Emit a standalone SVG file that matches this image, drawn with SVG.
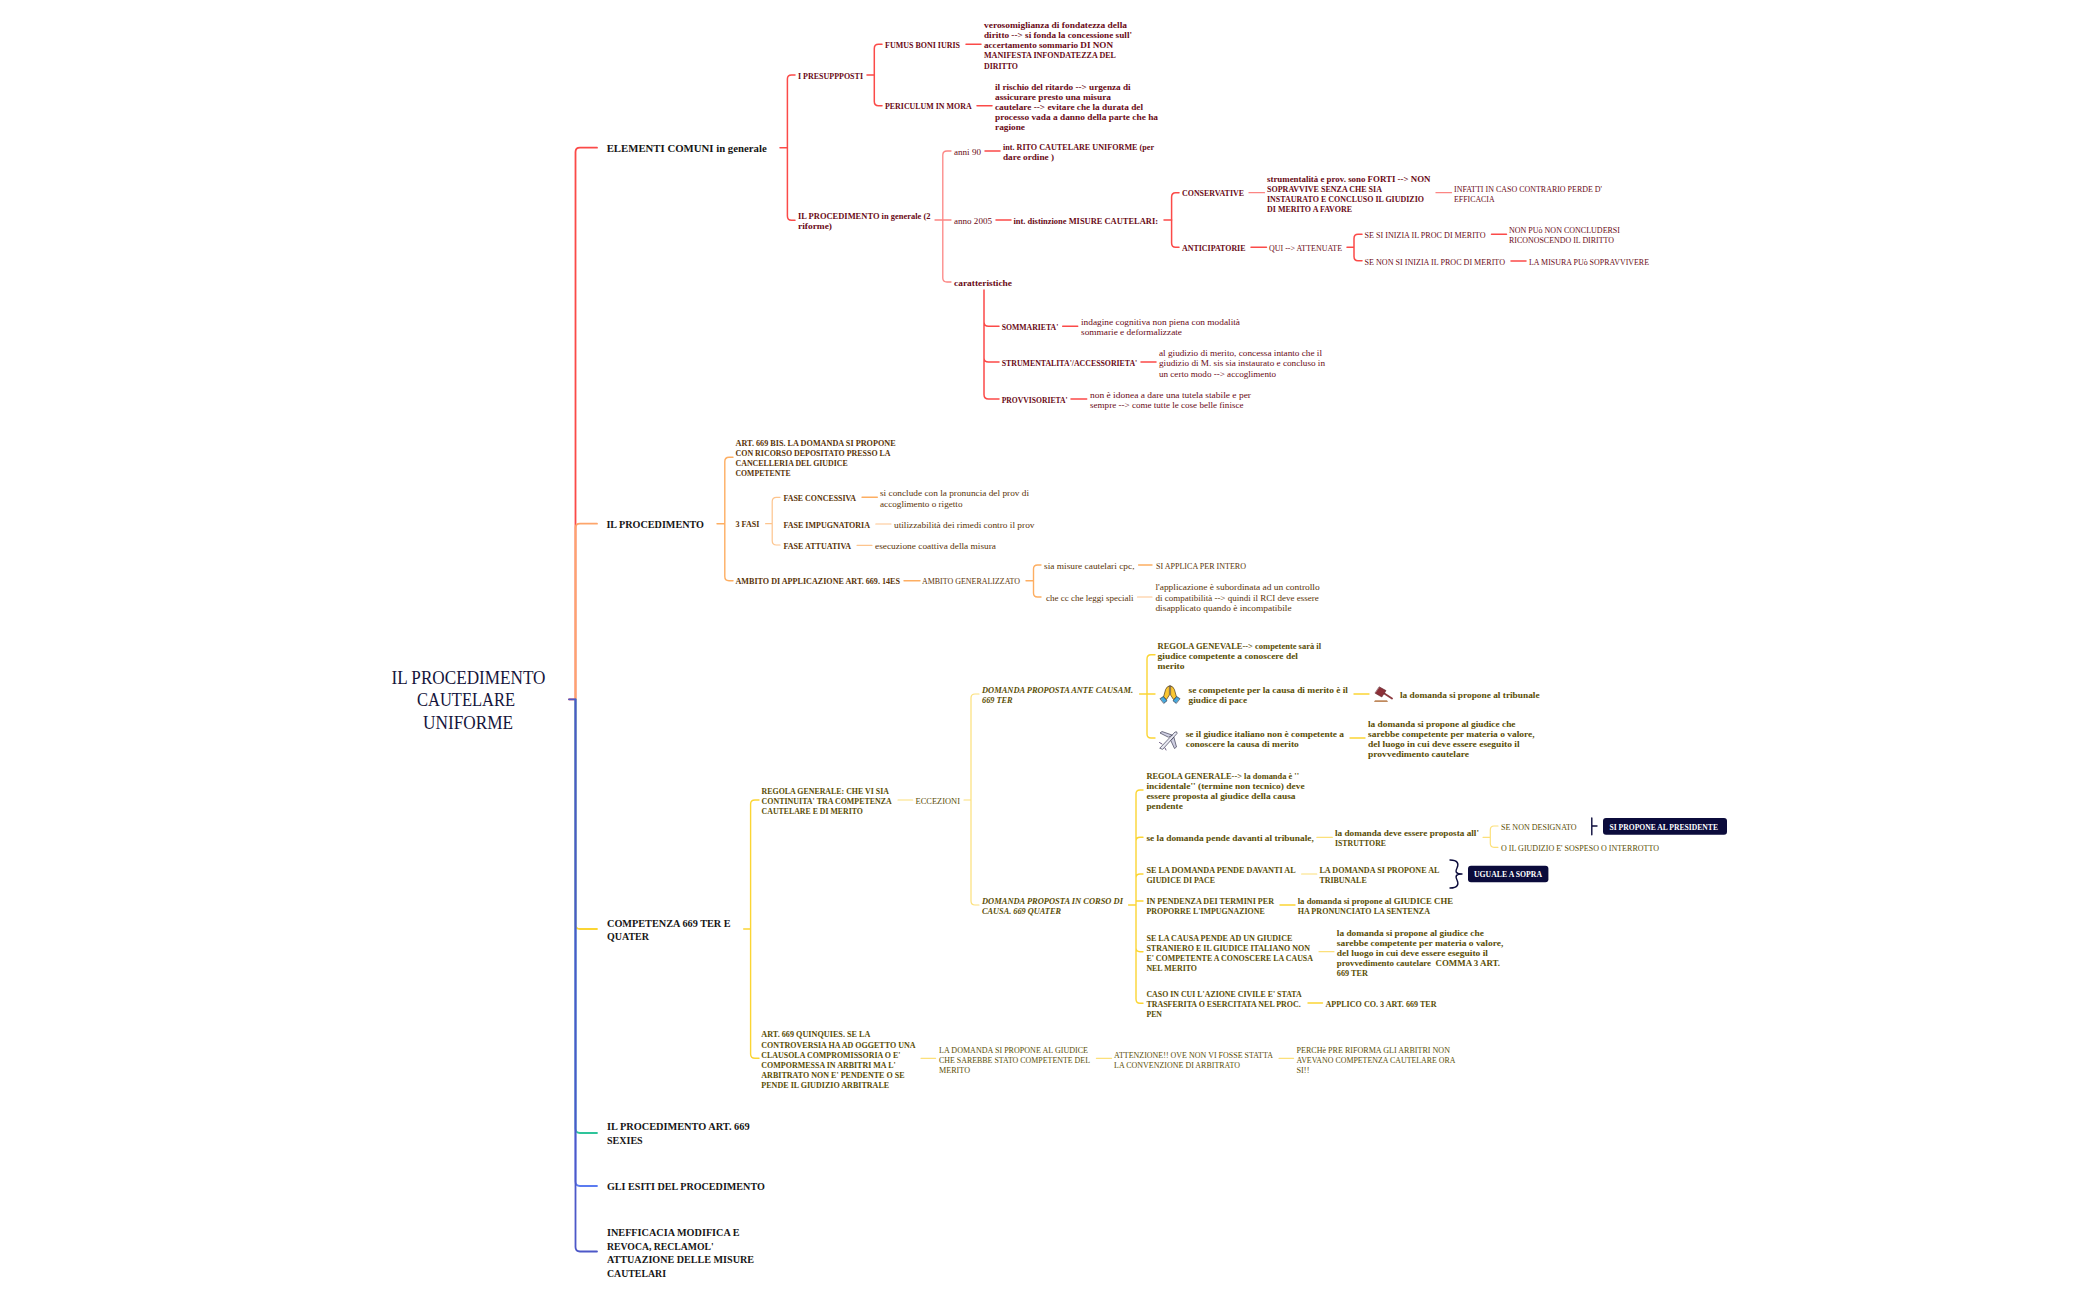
<svg xmlns="http://www.w3.org/2000/svg" width="2100" height="1300" viewBox="0 0 2100 1300">
<style>
text{font-family:"Liberation Serif","Times New Roman",serif;font-size:8.8px;dominant-baseline:central;transform:translateY(.6px)}
.b{font-weight:700}
.i{font-style:italic;font-weight:700}
.h{font-size:11px;font-weight:700;fill:#161616}
.root{font-size:18px;fill:#15153c;text-anchor:middle}
.r{fill:#6a0a16}
.o{fill:#5a3408}
.y{fill:#5a4e05}
.w{fill:#fff;font-weight:700;font-size:8.8px}
path{fill:none;stroke-linecap:round;stroke-linejoin:round}
.cr{stroke:#fb4a48;stroke-width:1.5}
.cr2{stroke:#fc8583;stroke-width:1.3}
.co{stroke:#fdae62;stroke-width:1.4}
.co2{stroke:#fdc48d;stroke-width:1.2}
.cy{stroke:#fbd534;stroke-width:1.4}
.cy2{stroke:#fce07a;stroke-width:1.2}
.dk{stroke:#0b0b3b;stroke-width:1.4}
.box{fill:#0b0b3b}
</style>
<g id="connectors">
<path d="M569,699.3H575.5V152Q575.5,147.7 580,147.7H597" stroke="#fb4a48" stroke-width="1.8"/>
<path d="M575.5,699.3V528Q575.5,523.7 580,523.7H597" stroke="#fda56b" stroke-width="1.8"/>
<path d="M575.5,699.3V925Q575.5,929 580,929H597" stroke="#fbd534" stroke-width="1.8"/>
<path d="M575.5,699.3V1128.6Q575.5,1133 580,1133H597" stroke="#2ec49a" stroke-width="1.8"/>
<path d="M575.5,699.3V1181.6Q575.5,1186 580,1186H597" stroke="#5b7bf0" stroke-width="1.8"/>
<path d="M569,699.3H575.5V1247Q575.5,1251.5 580,1251.5H597" stroke="#4d58c8" stroke-width="1.8"/>
<path class="cr" d="M780,147.7H787.4M795,75H791.5Q787.4,75 787.4,79V216Q787.4,220.3 791.5,220.3H795"/>
<path class="cr" d="M867,75H874.3M882,44.3H878.5Q874.3,44.3 874.3,48.5V101.5Q874.3,105.7 878.5,105.7H882"/>
<path class="cr" d="M966,44.3H981M977,105.7H992"/>
<path class="cr2" d="M935,220H951M951,151H947Q942.8,151 942.8,155V278Q942.8,282 947,282H951"/>
<path class="cr" d="M985,151H1000M996,220H1011M1164,220H1171.6"/>
<path class="cr" d="M984,290V394.5Q984,399 988.5,399H999M984,322Q984,326.3 988.5,326.3H999M984,358Q984,362 988.5,362H999"/>
<path class="cr" d="M1062.7,326.3H1077.7M1141,362H1156M1071,399H1086.7"/>
<path class="cr" d="M1179,192.7H1175.6Q1171.6,192.7 1171.6,197V243Q1171.6,247.3 1175.6,247.3H1179"/>
<path class="cr2" d="M1249,192.7H1264.5M1436,192.7H1451.5"/>
<path class="cr" d="M1251,247.3H1266.5M1347,247.3H1354M1362,234.3H1358Q1354,234.3 1354,238.5V256.5Q1354,260.7 1358,260.7H1362M1491.5,234.3H1506.5M1511,261H1526"/>
<path class="co" d="M717,523.7H724.8M733,457.3H729Q724.8,457.3 724.8,461.5V576.5Q724.8,580.7 729,580.7H733"/>
<path class="co2" d="M765.6,523.7H772.2M780,497.3H776.4Q772.2,497.3 772.2,501.5V540.8Q772.2,545 776.4,545H780"/>
<path class="co" d="M862,497.3H877.3"/>
<path class="co2" d="M875.8,524H891M857,545.3H872"/>
<path class="co" d="M904,580.7H920M1026,580.7H1033.5M1041,565H1037.5Q1033.5,565 1033.5,569V593Q1033.5,597 1037.5,597H1041M1138.6,565H1152"/>
<path class="co2" d="M1137.5,597H1152"/>
<path class="cy" d="M743.7,929H750.6M759,800H755Q750.6,800 750.6,804V1054Q750.6,1058.3 755,1058.3H759"/>
<path class="cy2" d="M898,800H912.7"/>
<path class="cy2" d="M964,800H971M979,694H975Q971,694 971,698V901Q971,905 975,905H979"/>
<path class="cy" d="M1139.6,694H1155M1155,654.7H1151Q1147,654.7 1147,659V734Q1147,738 1151,738H1155"/>
<path class="cy" d="M1354,694H1369M1350,738H1365"/>
<path class="cy" d="M1128.6,905H1136M1143,790H1140Q1136,790 1136,794V999Q1136,1003.3 1140,1003.3H1143M1136,841Q1136,837.3 1140,837.3H1143M1136,878Q1136,874 1140,874H1143M1136,901H1143M1136,948Q1136,951.7 1140,951.7H1143"/>
<path class="cy2" d="M1316.8,837.3H1332.4M1483,837.3H1490.3M1498,826H1494Q1490.3,826 1490.3,830V843.3Q1490.3,847.3 1494,847.3H1498"/>
<path class="cy2" d="M1301.6,874H1316.8M1319,951.7H1334"/>
<path class="cy" d="M1280,905H1295M1308,1003H1322.5"/>
<path class="cy2" d="M921,1058.3H935.6M1096.4,1058.3H1111.6M1279,1058.3H1293.6"/>
<path class="dk" d="M1591.8,818V834.7M1591.8,826H1597"/>
<path class="dk" d="M1450,860C1458,860 1459,864 1457,868C1455,872 1456,874 1462,874C1456,874 1455,876 1457,880C1459,884 1458,888 1450,888"/>
</g>
<g id="root"><text class="root" x="468.5" y="677.4" textLength="154" lengthAdjust="spacingAndGlyphs">IL PROCEDIMENTO</text><text class="root" x="466" y="699.4" textLength="98" lengthAdjust="spacingAndGlyphs">CAUTELARE</text><text class="root" x="468" y="722" textLength="90" lengthAdjust="spacingAndGlyphs">UNIFORME</text></g>
<g id="n1"><text class="h" x="606.7" y="147.7" textLength="160" lengthAdjust="spacingAndGlyphs">ELEMENTI COMUNI in generale</text></g>
<g id="n2"><text class="b r" x="798" y="75" textLength="65" lengthAdjust="spacingAndGlyphs">I PRESUPPPOSTI</text></g>
<g id="n3"><text class="b r" x="885" y="44.3" textLength="75" lengthAdjust="spacingAndGlyphs">FUMUS BONI IURIS</text></g>
<g id="n4"><text class="b r" x="984" y="24" textLength="143" lengthAdjust="spacingAndGlyphs">verosomiglianza di fondatezza della</text><text class="b r" x="984" y="34" textLength="148" lengthAdjust="spacingAndGlyphs">diritto --&gt; si fonda la concessione sull'</text><text class="b r" x="984" y="44" textLength="129" lengthAdjust="spacingAndGlyphs">accertamento sommario DI NON</text><text class="b r" x="984" y="54" textLength="132" lengthAdjust="spacingAndGlyphs">MANIFESTA INFONDATEZZA DEL</text><text class="b r" x="984" y="65" textLength="34" lengthAdjust="spacingAndGlyphs">DIRITTO</text></g>
<g id="n5"><text class="b r" x="885" y="105.7" textLength="86.6" lengthAdjust="spacingAndGlyphs">PERICULUM IN MORA</text></g>
<g id="n6"><text class="b r" x="995" y="86" textLength="135.6" lengthAdjust="spacingAndGlyphs">il rischio del ritardo --&gt; urgenza di</text><text class="b r" x="995" y="96.3" textLength="116" lengthAdjust="spacingAndGlyphs">assicurare presto una misura</text><text class="b r" x="995" y="106" textLength="148" lengthAdjust="spacingAndGlyphs">cautelare --&gt; evitare che la durata del</text><text class="b r" x="995" y="116.3" textLength="163" lengthAdjust="spacingAndGlyphs">processo vada a danno della parte che ha</text><text class="b r" x="995" y="126.3" textLength="30" lengthAdjust="spacingAndGlyphs">ragione</text></g>
<g id="n7"><text class="b r" x="798" y="215" textLength="132.5" lengthAdjust="spacingAndGlyphs">IL PROCEDIMENTO in generale (2</text><text class="b r" x="798" y="225" textLength="34" lengthAdjust="spacingAndGlyphs">riforme)</text></g>
<g id="n8"><text class="r" x="954" y="151" textLength="27" lengthAdjust="spacingAndGlyphs">anni 90</text></g>
<g id="n9"><text class="b r" x="1003" y="146" textLength="151" lengthAdjust="spacingAndGlyphs">int. RITO CAUTELARE UNIFORME (per</text><text class="b r" x="1003" y="156" textLength="51" lengthAdjust="spacingAndGlyphs">dare ordine )</text></g>
<g id="n10"><text class="r" x="954" y="220" textLength="38" lengthAdjust="spacingAndGlyphs">anno 2005</text></g>
<g id="n11"><text class="b r" x="1013.5" y="220" textLength="144.5" lengthAdjust="spacingAndGlyphs">int. distinzione MISURE CAUTELARI:</text></g>
<g id="n12"><text class="b r" x="1182" y="192.7" textLength="62" lengthAdjust="spacingAndGlyphs">CONSERVATIVE</text></g>
<g id="n13"><text class="b r" x="1267" y="178" textLength="163.5" lengthAdjust="spacingAndGlyphs">strumentalità e prov. sono FORTI --&gt; NON</text><text class="b r" x="1267" y="188" textLength="115" lengthAdjust="spacingAndGlyphs">SOPRAVVIVE SENZA CHE SIA</text><text class="b r" x="1267" y="198" textLength="157" lengthAdjust="spacingAndGlyphs">INSTAURATO E CONCLUSO IL GIUDIZIO</text><text class="b r" x="1267" y="208" textLength="85" lengthAdjust="spacingAndGlyphs">DI MERITO A FAVORE</text></g>
<g id="n14"><text class="r" x="1454" y="188" textLength="148" lengthAdjust="spacingAndGlyphs">INFATTI IN CASO CONTRARIO PERDE D'</text><text class="r" x="1454" y="198" textLength="40.6" lengthAdjust="spacingAndGlyphs">EFFICACIA</text></g>
<g id="n15"><text class="b r" x="1182" y="247.3" textLength="63.5" lengthAdjust="spacingAndGlyphs">ANTICIPATORIE</text></g>
<g id="n16"><text class="r" x="1269" y="247.3" textLength="73" lengthAdjust="spacingAndGlyphs">QUI --&gt; ATTENUATE</text></g>
<g id="n17"><text class="r" x="1364.5" y="234.3" textLength="121" lengthAdjust="spacingAndGlyphs">SE SI INIZIA IL PROC DI MERITO</text></g>
<g id="n18"><text class="r" x="1509" y="229" textLength="111" lengthAdjust="spacingAndGlyphs">NON PUò NON CONCLUDERSI</text><text class="r" x="1509" y="239" textLength="105" lengthAdjust="spacingAndGlyphs">RICONOSCENDO IL DIRITTO</text></g>
<g id="n19"><text class="r" x="1364.5" y="261" textLength="140.5" lengthAdjust="spacingAndGlyphs">SE NON SI INIZIA IL PROC DI MERITO</text></g>
<g id="n20"><text class="r" x="1529" y="261" textLength="120" lengthAdjust="spacingAndGlyphs">LA MISURA PUò SOPRAVVIVERE</text></g>
<g id="n21"><text class="b r" x="954" y="282" textLength="58" lengthAdjust="spacingAndGlyphs">caratteristiche</text></g>
<g id="n22"><text class="b r" x="1001.7" y="326.3" textLength="56.6" lengthAdjust="spacingAndGlyphs">SOMMARIETA'</text></g>
<g id="n23"><text class="r" x="1081" y="321.5" textLength="159" lengthAdjust="spacingAndGlyphs">indagine cognitiva non piena con modalità</text><text class="r" x="1081" y="331.5" textLength="101" lengthAdjust="spacingAndGlyphs">sommarie e deformalizzate</text></g>
<g id="n24"><text class="b r" x="1001.7" y="362" textLength="135.6" lengthAdjust="spacingAndGlyphs">STRUMENTALITA'/ACCESSORIETA'</text></g>
<g id="n25"><text class="r" x="1159" y="352.3" textLength="163" lengthAdjust="spacingAndGlyphs">al giudizio di merito, concessa intanto che il</text><text class="r" x="1159" y="362.3" textLength="166" lengthAdjust="spacingAndGlyphs">giudizio di M. sis sia instaurato e concluso in</text><text class="r" x="1159" y="373" textLength="117" lengthAdjust="spacingAndGlyphs">un certo modo --&gt; accoglimento</text></g>
<g id="n26"><text class="b r" x="1001.7" y="399" textLength="66" lengthAdjust="spacingAndGlyphs">PROVVISORIETA'</text></g>
<g id="n27"><text class="r" x="1090" y="394.3" textLength="161" lengthAdjust="spacingAndGlyphs">non è idonea a dare una tutela stabile e per</text><text class="r" x="1090" y="404.3" textLength="153.5" lengthAdjust="spacingAndGlyphs">sempre --&gt; come tutte le cose belle finisce</text></g>
<g id="n28"><text class="h" x="606.4" y="523.7" textLength="97.6" lengthAdjust="spacingAndGlyphs">IL PROCEDIMENTO</text></g>
<g id="n29"><text class="b o" x="735.5" y="442" textLength="160.2" lengthAdjust="spacingAndGlyphs">ART. 669 BIS. LA DOMANDA SI PROPONE</text><text class="b o" x="735.5" y="452" textLength="155.1" lengthAdjust="spacingAndGlyphs">CON RICORSO DEPOSITATO PRESSO LA</text><text class="b o" x="735.5" y="462" textLength="112.3" lengthAdjust="spacingAndGlyphs">CANCELLERIA DEL GIUDICE</text><text class="b o" x="735.5" y="472" textLength="55.1" lengthAdjust="spacingAndGlyphs">COMPETENTE</text></g>
<g id="n30"><text class="b o" x="735.5" y="523.7" textLength="24" lengthAdjust="spacingAndGlyphs">3 FASI</text></g>
<g id="n31"><text class="b o" x="783.5" y="497.3" textLength="72.5" lengthAdjust="spacingAndGlyphs">FASE CONCESSIVA</text></g>
<g id="n32"><text class="o" x="880" y="492.7" textLength="149" lengthAdjust="spacingAndGlyphs">si conclude con la pronuncia del prov di</text><text class="o" x="880" y="503.3" textLength="82.5" lengthAdjust="spacingAndGlyphs">accoglimento o rigetto</text></g>
<g id="n33"><text class="b o" x="783.5" y="524" textLength="86.5" lengthAdjust="spacingAndGlyphs">FASE IMPUGNATORIA</text></g>
<g id="n34"><text class="o" x="894" y="524" textLength="140.5" lengthAdjust="spacingAndGlyphs">utilizzabilità dei rimedi contro il prov</text></g>
<g id="n35"><text class="b o" x="783.5" y="545" textLength="67.5" lengthAdjust="spacingAndGlyphs">FASE ATTUATIVA</text></g>
<g id="n36"><text class="o" x="875" y="545.3" textLength="121" lengthAdjust="spacingAndGlyphs">esecuzione coattiva della misura</text></g>
<g id="n37"><text class="b o" x="735.5" y="580.7" textLength="164.5" lengthAdjust="spacingAndGlyphs">AMBITO DI APPLICAZIONE ART. 669. 14ES</text></g>
<g id="n38"><text class="o" x="922" y="580.7" textLength="98" lengthAdjust="spacingAndGlyphs">AMBITO GENERALIZZATO</text></g>
<g id="n39"><text class="o" x="1044" y="565" textLength="90.5" lengthAdjust="spacingAndGlyphs">sia misure cautelari cpc,</text></g>
<g id="n40"><text class="o" x="1156" y="565" textLength="90" lengthAdjust="spacingAndGlyphs">SI APPLICA PER INTERO</text></g>
<g id="n41"><text class="o" x="1046" y="597" textLength="87.5" lengthAdjust="spacingAndGlyphs">che cc che leggi speciali</text></g>
<g id="n42"><text class="o" x="1155.4" y="586.3" textLength="164.3" lengthAdjust="spacingAndGlyphs">l'applicazione è subordinata ad un controllo</text><text class="o" x="1155.4" y="597" textLength="163.3" lengthAdjust="spacingAndGlyphs">di compatibilità --&gt; quindi il RCI deve essere</text><text class="o" x="1155.4" y="607.3" textLength="136.2" lengthAdjust="spacingAndGlyphs">disapplicato quando è incompatibile</text></g>
<g id="n43"><text class="h" x="607" y="922.3" textLength="123.6" lengthAdjust="spacingAndGlyphs">COMPETENZA 669 TER E</text><text class="h" x="607" y="935.3" textLength="42" lengthAdjust="spacingAndGlyphs">QUATER</text></g>
<g id="n44"><text class="b y" x="761.6" y="790" textLength="127.4" lengthAdjust="spacingAndGlyphs">REGOLA GENERALE: CHE VI SIA</text><text class="b y" x="761.6" y="800" textLength="130.2" lengthAdjust="spacingAndGlyphs">CONTINUITA' TRA COMPETENZA</text><text class="b y" x="761.6" y="810" textLength="101.3" lengthAdjust="spacingAndGlyphs">CAUTELARE E DI MERITO</text></g>
<g id="n45"><text class="y" x="915.5" y="800" textLength="44.5" lengthAdjust="spacingAndGlyphs">ECCEZIONI</text></g>
<g id="n46"><text class="i y" x="982" y="689" textLength="151" lengthAdjust="spacingAndGlyphs">DOMANDA PROPOSTA ANTE CAUSAM.</text><text class="i y" x="982" y="699" textLength="30.6" lengthAdjust="spacingAndGlyphs">669 TER</text></g>
<g id="n47"><text class="b y" x="1157.6" y="645.3" textLength="163.4" lengthAdjust="spacingAndGlyphs">REGOLA GENEVALE--&gt; competente sarà il</text><text class="b y" x="1157.6" y="655.3" textLength="140.4" lengthAdjust="spacingAndGlyphs">giudice competente a conoscere del</text><text class="b y" x="1157.6" y="665.3" textLength="26.9" lengthAdjust="spacingAndGlyphs">merito</text></g>
<g id="n48"><g id="icon-pray"><path d="M1169.4,686L1169.4,695L1166.5,699.5L1163.5,697L1165.6,689.5Q1167,686 1169.4,686Z" style="fill:#fbc632;stroke:#4a3a20;stroke-width:.7"/><path d="M1170.6,686L1170.6,695L1173.5,699.5L1176.5,697L1174.4,689.5Q1173,686 1170.6,686Z" style="fill:#fbc632;stroke:#4a3a20;stroke-width:.7"/><path d="M1160.3,698.5L1163.3,696.6L1167,700.8L1164,703.2Z" style="fill:#45a9dd;stroke:#223;stroke-width:.6"/><path d="M1179.7,698.5L1176.7,696.6L1173,700.8L1176,703.2Z" style="fill:#45a9dd;stroke:#223;stroke-width:.6"/></g><text class="b y" x="1188.6" y="689.3" textLength="159.4" lengthAdjust="spacingAndGlyphs">se competente per la causa di merito è il</text><text class="b y" x="1188.6" y="699.3" textLength="58.4" lengthAdjust="spacingAndGlyphs">giudice di pace</text></g>
<g id="n49"><g id="icon-gavel"><path d="M1375,700.3H1387L1388,702H1374Z" style="fill:#c08a5e;stroke:none"/><path d="M1382,692L1392,698.5" style="stroke:#8c3a3f;stroke-width:1.9"/><path d="M1379.5,687L1386,690.6L1381.8,697L1375.3,693.3Z" style="fill:#8c3038;stroke:#5a2028;stroke-width:.6"/></g><text class="b y" x="1400" y="694.3" textLength="139.6" lengthAdjust="spacingAndGlyphs">la domanda si propone al tribunale</text></g>
<g id="n50"><g id="icon-plane"><path d="M1160,748L1175,732Q1177.5,731 1177,733.5L1163,749Z" style="fill:#e8e8f2;stroke:#3d3d55;stroke-width:.7"/><path d="M1168,737L1160,733L1162,731.5L1172,735Z" style="fill:#cfcfe2;stroke:#3d3d55;stroke-width:.7"/><path d="M1171,741L1174.5,748.5L1176.5,747L1174,737.5Z" style="fill:#cfcfe2;stroke:#3d3d55;stroke-width:.7"/><path d="M1162,744L1159.5,742.5M1165,748L1166,750" style="stroke:#6a5a80;stroke-width:1"/></g><text class="b y" x="1185.7" y="733.3" textLength="158.3" lengthAdjust="spacingAndGlyphs">se il giudice italiano non è competente a</text><text class="b y" x="1185.7" y="743.3" textLength="113.1" lengthAdjust="spacingAndGlyphs">conoscere la causa di merito</text></g>
<g id="n51"><text class="b y" x="1368" y="723.3" textLength="147.5" lengthAdjust="spacingAndGlyphs">la domanda si propone al giudice che</text><text class="b y" x="1368" y="733.3" textLength="166.7" lengthAdjust="spacingAndGlyphs">sarebbe competente per materia o valore,</text><text class="b y" x="1368" y="743.3" textLength="151.6" lengthAdjust="spacingAndGlyphs">del luogo in cui deve essere eseguito il</text><text class="b y" x="1368" y="753.3" textLength="101" lengthAdjust="spacingAndGlyphs">provvedimento cautelare</text></g>
<g id="n52"><text class="i y" x="982" y="900" textLength="141" lengthAdjust="spacingAndGlyphs">DOMANDA PROPOSTA IN CORSO DI</text><text class="i y" x="982" y="910" textLength="79" lengthAdjust="spacingAndGlyphs">CAUSA. 669 QUATER</text></g>
<g id="n53"><text class="b y" x="1146.4" y="775.3" textLength="152.6" lengthAdjust="spacingAndGlyphs">REGOLA GENERALE--&gt; la domanda è ''</text><text class="b y" x="1146.4" y="785.3" textLength="158.3" lengthAdjust="spacingAndGlyphs">incidentale'' (termine non tecnico) deve</text><text class="b y" x="1146.4" y="795.3" textLength="149.2" lengthAdjust="spacingAndGlyphs">essere proposta al giudice della causa</text><text class="b y" x="1146.4" y="805.3" textLength="36.4" lengthAdjust="spacingAndGlyphs">pendente</text></g>
<g id="n54"><text class="b y" x="1146.4" y="837.3" textLength="167.4" lengthAdjust="spacingAndGlyphs">se la domanda pende davanti al tribunale,</text></g>
<g id="n55"><text class="b y" x="1335" y="832.3" textLength="144" lengthAdjust="spacingAndGlyphs">la domanda deve essere proposta all'</text><text class="b y" x="1335" y="842.3" textLength="51" lengthAdjust="spacingAndGlyphs">ISTRUTTORE</text></g>
<g id="n56"><text class="y" x="1501" y="826" textLength="75.6" lengthAdjust="spacingAndGlyphs">SE NON DESIGNATO</text></g>
<g id="n57"><rect class="box" x="1603" y="818" width="124" height="16.7" rx="3"/><text class="w" x="1609.5" y="826" textLength="108.5" lengthAdjust="spacingAndGlyphs">SI PROPONE AL PRESIDENTE</text></g>
<g id="n58"><text class="y" x="1501" y="847.3" textLength="158" lengthAdjust="spacingAndGlyphs">O IL GIUDIZIO E' SOSPESO O INTERROTTO</text></g>
<g id="n59"><text class="b y" x="1146.4" y="869" textLength="149.2" lengthAdjust="spacingAndGlyphs">SE LA DOMANDA PENDE DAVANTI AL</text><text class="b y" x="1146.4" y="879" textLength="68.6" lengthAdjust="spacingAndGlyphs">GIUDICE DI PACE</text></g>
<g id="n60"><text class="b y" x="1319.4" y="869" textLength="120.1" lengthAdjust="spacingAndGlyphs">LA DOMANDA SI PROPONE AL</text><text class="b y" x="1319.4" y="879" textLength="47.3" lengthAdjust="spacingAndGlyphs">TRIBUNALE</text></g>
<g id="n61"><rect class="box" x="1468" y="865.7" width="80.4" height="16.6" rx="3"/><text class="w" x="1474" y="873.6" textLength="68" lengthAdjust="spacingAndGlyphs">UGUALE A SOPRA</text></g>
<g id="n62"><text class="b y" x="1146.4" y="900" textLength="127.6" lengthAdjust="spacingAndGlyphs">IN PENDENZA DEI TERMINI PER</text><text class="b y" x="1146.4" y="910" textLength="118.4" lengthAdjust="spacingAndGlyphs">PROPORRE L'IMPUGNAZIONE</text></g>
<g id="n63"><text class="b y" x="1297.7" y="900" textLength="155.3" lengthAdjust="spacingAndGlyphs">la domanda si propone al GIUDICE CHE</text><text class="b y" x="1297.7" y="910" textLength="132.3" lengthAdjust="spacingAndGlyphs">HA PRONUNCIATO LA SENTENZA</text></g>
<g id="n64"><text class="b y" x="1146.4" y="937" textLength="146.1" lengthAdjust="spacingAndGlyphs">SE LA CAUSA PENDE AD UN GIUDICE</text><text class="b y" x="1146.4" y="947" textLength="163.6" lengthAdjust="spacingAndGlyphs">STRANIERO E IL GIUDICE ITALIANO NON</text><text class="b y" x="1146.4" y="957" textLength="166.6" lengthAdjust="spacingAndGlyphs">E' COMPETENTE A CONOSCERE LA CAUSA</text><text class="b y" x="1146.4" y="967" textLength="50.6" lengthAdjust="spacingAndGlyphs">NEL MERITO</text></g>
<g id="n65"><text class="b y" x="1336.8" y="932.3" textLength="147" lengthAdjust="spacingAndGlyphs">la domanda si propone al giudice che</text><text class="b y" x="1336.8" y="942.3" textLength="166.5" lengthAdjust="spacingAndGlyphs">sarebbe competente per materia o valore,</text><text class="b y" x="1336.8" y="952.3" textLength="151.2" lengthAdjust="spacingAndGlyphs">del luogo in cui deve essere eseguito il</text><text class="b y" x="1336.8" y="962.3" textLength="163.2" lengthAdjust="spacingAndGlyphs" xml:space="preserve">provvedimento cautelare  COMMA 3 ART.</text><text class="b y" x="1336.8" y="972.3" textLength="31.2" lengthAdjust="spacingAndGlyphs">669 TER</text></g>
<g id="n66"><text class="b y" x="1146.4" y="993" textLength="155.2" lengthAdjust="spacingAndGlyphs">CASO IN CUI L'AZIONE CIVILE E' STATA</text><text class="b y" x="1146.4" y="1003" textLength="154.4" lengthAdjust="spacingAndGlyphs">TRASFERITA O ESERCITATA NEL PROC.</text><text class="b y" x="1146.4" y="1013" textLength="15.6" lengthAdjust="spacingAndGlyphs">PEN</text></g>
<g id="n67"><text class="b y" x="1325.5" y="1003" textLength="111" lengthAdjust="spacingAndGlyphs">APPLICO CO. 3 ART. 669 TER</text></g>
<g id="n68"><text class="b y" x="761.3" y="1033" textLength="109.1" lengthAdjust="spacingAndGlyphs">ART. 669 QUINQUIES. SE LA</text><text class="b y" x="761.3" y="1044" textLength="154.3" lengthAdjust="spacingAndGlyphs">CONTROVERSIA HA AD OGGETTO UNA</text><text class="b y" x="761.3" y="1054" textLength="139.1" lengthAdjust="spacingAndGlyphs">CLAUSOLA COMPROMISSORIA O E'</text><text class="b y" x="761.3" y="1064" textLength="134.4" lengthAdjust="spacingAndGlyphs">COMPORMESSA IN ARBITRI MA L'</text><text class="b y" x="761.3" y="1074" textLength="143.2" lengthAdjust="spacingAndGlyphs">ARBITRATO NON E' PENDENTE O SE</text><text class="b y" x="761.3" y="1084" textLength="127.9" lengthAdjust="spacingAndGlyphs">PENDE IL GIUDIZIO ARBITRALE</text></g>
<g id="n69"><text class="y" x="939" y="1049" textLength="149" lengthAdjust="spacingAndGlyphs">LA DOMANDA SI PROPONE AL GIUDICE</text><text class="y" x="939" y="1059" textLength="151" lengthAdjust="spacingAndGlyphs">CHE SAREBBE STATO COMPETENTE DEL</text><text class="y" x="939" y="1069" textLength="31" lengthAdjust="spacingAndGlyphs">MERITO</text></g>
<g id="n70"><text class="y" x="1114" y="1054" textLength="159" lengthAdjust="spacingAndGlyphs">ATTENZIONE!! OVE NON VI FOSSE STATTA</text><text class="y" x="1114" y="1064" textLength="126" lengthAdjust="spacingAndGlyphs">LA CONVENZIONE DI ARBITRATO</text></g>
<g id="n71"><text class="y" x="1296.5" y="1049" textLength="153.5" lengthAdjust="spacingAndGlyphs">PERCHè PRE RIFORMA GLI ARBITRI NON</text><text class="y" x="1296.5" y="1059" textLength="159" lengthAdjust="spacingAndGlyphs">AVEVANO COMPETENZA CAUTELARE ORA</text><text class="y" x="1296.5" y="1069" textLength="12.9" lengthAdjust="spacingAndGlyphs">SI!!</text></g>
<g id="n72"><text class="h" x="607" y="1125.6" textLength="142.6" lengthAdjust="spacingAndGlyphs">IL PROCEDIMENTO ART. 669</text><text class="h" x="607" y="1139.6" textLength="35.7" lengthAdjust="spacingAndGlyphs">SEXIES</text></g>
<g id="n73"><text class="h" x="607" y="1185.6" textLength="157.8" lengthAdjust="spacingAndGlyphs">GLI ESITI DEL PROCEDIMENTO</text></g>
<g id="n74"><text class="h" x="607" y="1231.6" textLength="132.6" lengthAdjust="spacingAndGlyphs">INEFFICACIA MODIFICA E</text><text class="h" x="607" y="1245" textLength="106.8" lengthAdjust="spacingAndGlyphs">REVOCA, RECLAMOL'</text><text class="h" x="607" y="1258.6" textLength="147" lengthAdjust="spacingAndGlyphs">ATTUAZIONE DELLE MISURE</text><text class="h" x="607" y="1272" textLength="59" lengthAdjust="spacingAndGlyphs">CAUTELARI</text></g>
</svg>
